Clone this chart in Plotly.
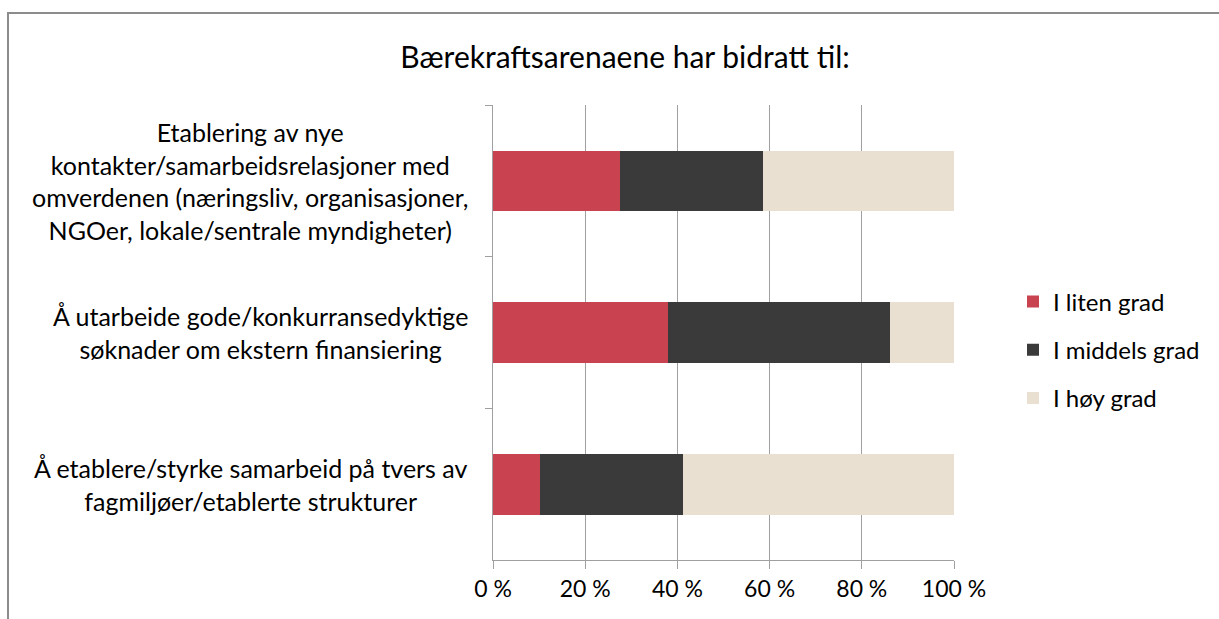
import plotly.graph_objects as go

categories = [
    "Etablering av nye<br>kontakter/samarbeidsrelasjoner med<br>omverdenen (næringsliv, organisasjoner,<br>NGOer, lokale/sentrale myndigheter)",
    "Å utarbeide gode/konkurransedyktige<br>søknader om ekstern finansiering",
    "Å etablere/styrke samarbeid på tvers av<br>fagmiljøer/etablerte strukturer",
]
series_names = ["I liten grad", "I middels grad", "I høy grad"]
liten = [27.6, 37.9, 10.3]
middels = [31.0, 48.2, 30.9]
hoy = [41.4, 13.9, 58.8]
tick_vals = [0, 20, 40, 60, 80, 100]
tick_text = ["0 %", "20 %", "40 %", "60 %", "80 %", "100 %"]
title_text = "Bærekraftsarenaene har bidratt til:"

colors = ["#c8434f", "#3a3a3a", "#e9e0d2"]
FONT = "Lato"

fig = go.Figure()
for name, vals, col in zip(series_names, [liten, middels, hoy], colors):
    fig.add_trace(go.Bar(
        y=categories, x=vals, name=name, orientation="h",
        marker=dict(color=col, line=dict(width=0)),
        width=0.4, legendgroup=name,
    ))

W, H = 1219, 619
L, R, T, B = 493, 954, 105, 560
pw, ph = R - L, B - T

fig.update_layout(
    width=W, height=H,
    margin=dict(l=L, r=W - R, t=T, b=H - B, pad=0),
    paper_bgcolor="white", plot_bgcolor="white",
    barmode="stack",
    font=dict(family=FONT, size=24, color="#000000"),
    title=dict(text=title_text, x=625 / W, xanchor="center",
               y=1 - 57 / H, yanchor="middle",
               font=dict(family=FONT, size=30, color="#000000")),
    legend=dict(x=(1013 - L) / pw, xanchor="left", y=(B - 350) / ph, yanchor="middle",
                traceorder="grouped", tracegroupgap=14,
                font=dict(family=FONT, size=24, color="#000000"),
                bgcolor="rgba(0,0,0,0)"),
    showlegend=True,
)
fig.update_xaxes(
    range=[0, 100], tickvals=tick_vals, ticktext=tick_text,
    showgrid=True, gridcolor="#a0a0a0", gridwidth=1,
    showline=True, linecolor="#a0a0a0", linewidth=1,
    ticks="outside", ticklen=8, tickcolor="#a0a0a0",
    tickfont=dict(family=FONT, size=23, color="#000000"),
    zeroline=False, fixedrange=True,
)
fig.update_yaxes(
    autorange="reversed", showticklabels=False,
    showline=True, linecolor="#a0a0a0", linewidth=1,
    ticks="outside", ticklen=7, tickcolor="#a0a0a0", tickson="boundaries",
    showgrid=False, zeroline=False,
)

for cat in categories:
    fig.add_annotation(
        x=0, xref="paper", y=cat, yref="y", text=cat, showarrow=False,
        xanchor="right", yanchor="middle", xshift=-23, align="center",
        font=dict(family=FONT, size=25, color="#000000"),
    )

# outer chart border
fig.add_shape(type="rect", xref="paper", yref="paper",
              x0=(8 - L) / pw, x1=(1240 - L) / pw,
              y0=(B - 640) / ph, y1=(B - 13) / ph,
              line=dict(color="#8c8c8c", width=2), fillcolor="rgba(0,0,0,0)", layer="below")

fig.write_html("out.html", config={"displayModeBar": False},
               post_script="document.body.style.margin='0';document.body.style.overflow='hidden';")
